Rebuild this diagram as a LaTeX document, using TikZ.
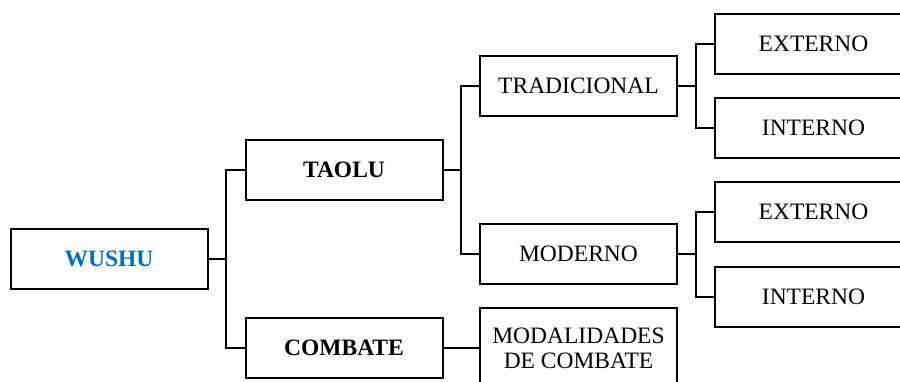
\documentclass[tikz,border=0pt]{standalone}
\usepackage{fontspec}
\setmainfont{Liberation Serif}
\definecolor{wblue}{HTML}{0070C0}
\begin{document}
\begin{tikzpicture}[x=1pt,y=-1pt,
  box/.style={draw=black,line width=2pt,minimum width=197pt,minimum height=60pt,inner sep=0pt,anchor=center,align=center,font=\fontsize{23.5}{25}\selectfont},
  conn/.style={draw=black,line width=2pt}]
\useasboundingbox (0,0) rectangle (900,381);
\clip (0,0) rectangle (900,381);
\node[box,text=wblue,font=\fontsize{23.5}{25}\selectfont\bfseries] (wushu) at (109,259) {WUSHU};
\node[box,font=\fontsize{23.5}{25}\selectfont\bfseries] (taolu) at (344,170) {TAOLU};
\node[box,font=\fontsize{23.5}{25}\selectfont\bfseries] (combate) at (344,348) {COMBATE};
\node[box] (trad) at (578.5,86) {TRADICIONAL};
\node[box] (mod) at (578.5,254) {MODERNO};
\node[box,minimum height=80pt] (modal) at (578.5,348) {MODALIDADES\\DE COMBATE};
\node[box] (ext1) at (813.5,44) {EXTERNO};
\node[box] (int1) at (813.5,128) {INTERNO};
\node[box] (ext2) at (813.5,212) {EXTERNO};
\node[box] (int2) at (813.5,297) {INTERNO};
\coordinate (j1) at (226,259);
\coordinate (j2) at (461,170);
\coordinate (j3) at (696,86);
\coordinate (j4) at (696,254);
\draw[conn] (wushu.east) -- (j1);
\draw[conn] (j1) |- (taolu.west);
\draw[conn] (j1) |- (combate.west);
\draw[conn] (taolu.east) -- (j2);
\draw[conn] (j2) |- (trad.west);
\draw[conn] (j2) |- (mod.west);
\draw[conn] (trad.east) -- (j3);
\draw[conn] (j3) |- (ext1.west);
\draw[conn] (j3) |- (int1.west);
\draw[conn] (mod.east) -- (j4);
\draw[conn] (j4) |- (ext2.west);
\draw[conn] (j4) |- (int2.west);
\draw[conn] (combate.east) -- (modal.west);
\end{tikzpicture}
\end{document}
